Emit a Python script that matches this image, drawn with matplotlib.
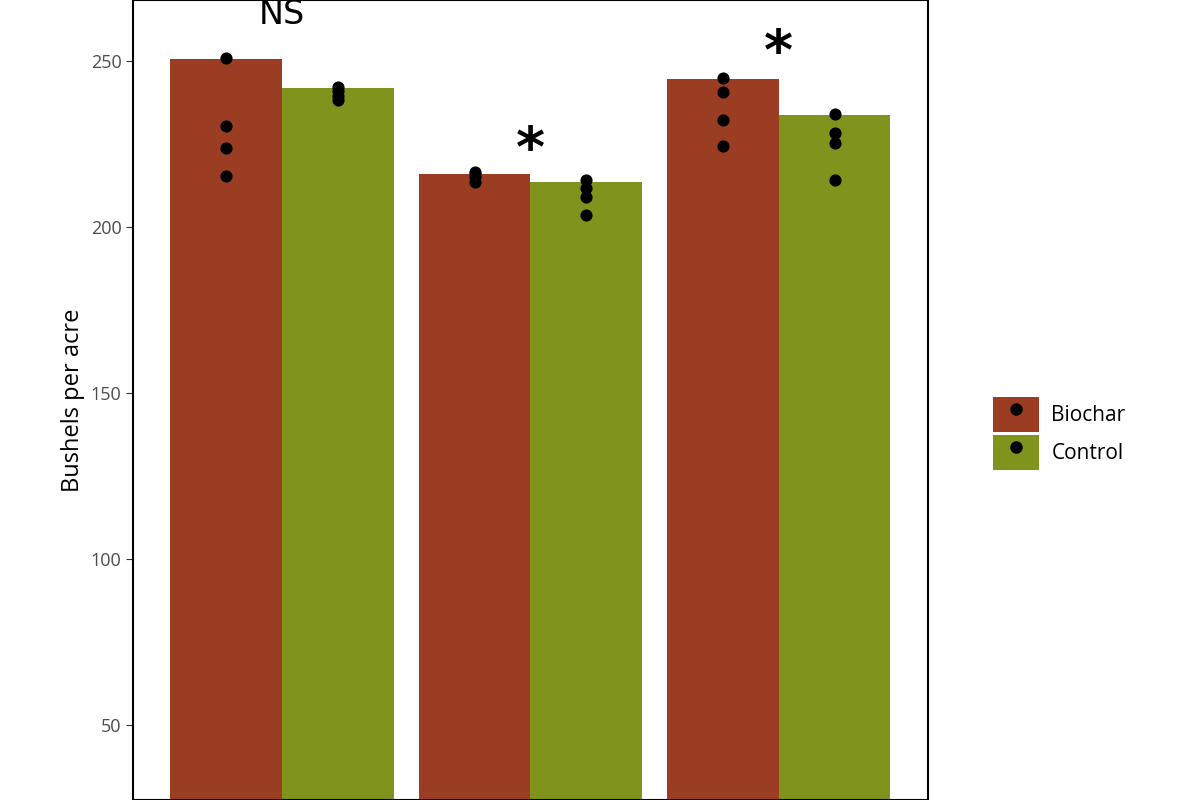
import matplotlib
matplotlib.use("Agg")
import matplotlib.pyplot as plt
from matplotlib.lines import Line2D
from matplotlib.patches import Patch
import numpy as np

plt.rcParams['font.family'] = ['Open Sans', 'DejaVu Sans']

groups = [1, 2, 3]
treatments = ["Biochar", "Control"]
colors = {"Biochar": "#9B3D23", "Control": "#80931C"}
means = {"Biochar": [250.6, 216.0, 244.6], "Control": [241.9, 213.6, 233.7]}
points = {
    "Biochar": [[250.9, 230.4, 223.8, 215.4], [216.6, 216.0, 215.1, 213.6], [244.9, 240.7, 232.2, 224.4]],
    "Control": [[242.2, 241.0, 239.5, 238.3], [214.2, 211.7, 209.0, 203.6], [234.0, 228.3, 225.3, 214.2]],
}
labels = ["NS", "*", "*"]
label_y = [264, 223, 252]

fig = plt.figure(figsize=(12, 8), dpi=100)
ax = fig.add_axes([0.111, 0.0, 0.662, 1.0])
w = 0.45
for j, t in enumerate(treatments):
    off = (j - 0.5) * w
    xs = np.array(groups) + off
    ax.bar(xs, means[t], width=w, color=colors[t], zorder=1)
    for x, pts in zip(xs, points[t]):
        ax.scatter([x] * len(pts), pts, color="black", s=60, zorder=3)
for g, lab, y in zip(groups, labels, label_y):
    if lab == "*":
        ax.text(g, y, lab, ha="center", va="center", fontsize=40, fontweight="bold", family="DejaVu Sans")
    else:
        ax.text(g, y, lab, ha="center", va="center", fontsize=24, family="DejaVu Sans")
ax.set_xlim(0.4, 3.6)
ax.set_ylim(27.4, 268.4)
ax.set_yticks([50, 100, 150, 200, 250])
ax.tick_params(axis='y', labelsize=13, labelcolor="#4D4D4D", color="#333333", length=5)
ax.tick_params(axis='x', bottom=False, labelbottom=False)
ax.set_ylabel("Bushels per acre", fontsize=17)
for s in ax.spines.values():
    s.set_linewidth(1.5)
    s.set_color("black")

handles = [(Patch(facecolor=colors[t]), Line2D([], [], marker='o', color='black', linestyle='None', markersize=8)) for t in treatments]
from matplotlib.legend_handler import HandlerTuple
fig.legend(handles, treatments, loc="center left", bbox_to_anchor=(0.812, 0.458), frameon=False,
           fontsize=15, handlelength=2.2, handleheight=2.2, handletextpad=0.6, labelspacing=0.15,
           handler_map={tuple: HandlerTuple(ndivide=1)})
fig.savefig("out.png", dpi=100)
